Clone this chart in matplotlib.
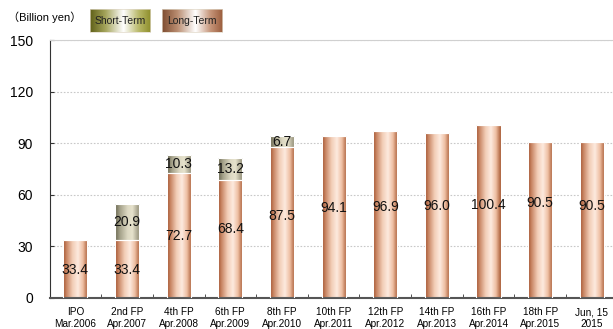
import numpy as np
import matplotlib
matplotlib.use("Agg")
import matplotlib.pyplot as plt
from matplotlib.colors import LinearSegmentedColormap

plt.rcParams['font.family'] = ['Liberation Sans', 'Noto Sans CJK JP', 'DejaVu Sans']

# ----- DATA -----
periods = ["IPO\nMar.2006", "2nd FP\nApr.2007", "4th FP\nApr.2008", "6th FP\nApr.2009",
           "8th FP\nApr.2010", "10th FP\nApr.2011", "12th FP\nApr.2012", "14th FP\nApr.2013",
           "16th FP\nApr.2014", "18th FP\nApr.2015", "Jun, 15\n2015"]
long_term = [33.4, 33.4, 72.7, 68.4, 87.5, 94.1, 96.9, 96.0, 100.4, 90.5, 90.5]
short_term = [0, 20.9, 10.3, 13.2, 6.7, 0, 0, 0, 0, 0, 0]
yticks = [0, 30, 60, 90, 120, 150]

# where the long-term labels sit (data units), they are not centred in the original
long_label_y = [16, 16, 36, 39.9, 47.6, 52, 52.6, 53.2, 53.8, 55, 53.2]

# ----- GRADIENTS -----
long_cmap = LinearSegmentedColormap.from_list("long", [
    (0.0, "#9c4a26"), (0.12, "#c47f5c"), (0.38, "#f2cdb6"),
    (0.6, "#fdeadf"), (0.8, "#eebfa3"), (1.0, "#a85a33")])
short_cmap = LinearSegmentedColormap.from_list("short", [
    (0.0, "#66644e"), (0.2, "#a5a28a"), (0.5, "#dcd8c2"),
    (0.7, "#e6e2cc"), (0.9, "#aaa690"), (1.0, "#8e8a72")])
leg_short_cmap = LinearSegmentedColormap.from_list("lshort", [
    (0.0, "#5f6018"), (0.25, "#a3a35a"), (0.55, "#ffffff"), (0.8, "#b9b96a"), (1.0, "#8e8e2a")])
leg_long_cmap = LinearSegmentedColormap.from_list("llong", [
    (0.0, "#7e4c30"), (0.25, "#b98c70"), (0.55, "#ffffff"), (0.8, "#c59478"), (1.0, "#9a5c3c")])
grad = np.linspace(0, 1, 256).reshape(1, -1)


def fill_gradient(ax, bars, cmap):
    for b in bars:
        if b.get_height() <= 0:
            continue
        x0, y0 = b.get_x(), b.get_y()
        im = ax.imshow(grad, cmap=cmap, aspect="auto", interpolation="bilinear",
                       extent=[x0, x0 + b.get_width(), y0, y0 + b.get_height()], zorder=2)
        im.set_clip_path(b)


fig = plt.figure(figsize=(6.13, 3.29), dpi=100)
ax = fig.add_axes([0.0808, 0.0951, 0.927, 0.7833])

x = np.arange(len(periods))
w = 0.47
b_long = ax.bar(x, long_term, w, facecolor="none", edgecolor="white", linewidth=0.8, zorder=3)
b_short = ax.bar(x, short_term, w, bottom=long_term, facecolor="none",
                 edgecolor="white", linewidth=0.8, zorder=3)
fill_gradient(ax, b_long, long_cmap)
fill_gradient(ax, b_short, short_cmap)

for i in range(len(periods)):
    ax.text(x[i], long_label_y[i], f"{long_term[i]:.1f}", ha="center", va="center",
            fontsize=10, color="#111111", zorder=4)
    if short_term[i] > 0:
        ax.text(x[i], long_term[i] + short_term[i] / 2, f"{short_term[i]:.1f}",
                ha="center", va="center", fontsize=10, color="#111111", zorder=4)

ax.set_xlim(-0.5, len(periods) - 0.5)
ax.set_ylim(0, 150)
ax.set_yticks(yticks)
ax.tick_params(axis="y", direction="in", length=3, labelsize=10, pad=12, color="#333333")
ax.set_xticks(x)
ax.set_xticklabels(periods, fontsize=7.2, linespacing=1.15)
ax.tick_params(axis="x", which="major", length=0, pad=7)
ax.set_xticks(x[:-1] + 0.5, minor=True)
ax.tick_params(axis="x", which="minor", direction="in", length=3, color="#333333")

ax.yaxis.grid(True, linestyle=(0, (1.5, 1.5)), color="#c8c8c8", linewidth=0.8, zorder=0)
ax.set_axisbelow(True)
ax.spines["top"].set_color("#d0d0d0")
ax.spines["right"].set_visible(False)
ax.spines["left"].set_color("#333333")
ax.spines["bottom"].set_color("#555555")
ax.spines["bottom"].set_linewidth(1.5)

fig.text(8 / 613, 1 - 17 / 329, "（Billion yen）", fontsize=8, ha="left", va="center")

# legend boxes
for left, cmap, label in [(90 / 613, leg_short_cmap, "Short-Term"),
                          (162 / 613, leg_long_cmap, "Long-Term")]:
    lax = fig.add_axes([left, 0.9027, 0.098, 0.0699])
    lax.imshow(grad, cmap=cmap, aspect="auto", interpolation="bilinear", extent=[0, 1, 0, 1])
    lax.text(0.5, 0.5, label, ha="center", va="center", fontsize=7.5, color="#222222")
    lax.set_xticks([])
    lax.set_yticks([])
    for s in lax.spines.values():
        s.set_color("#e0d8c8")
        s.set_linewidth(0.5)

fig.savefig("out.png", dpi=100)
